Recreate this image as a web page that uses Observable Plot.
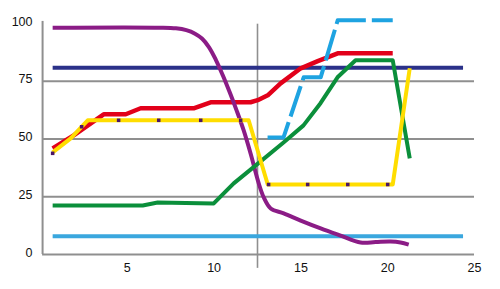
<!DOCTYPE html>
<html><head><meta charset="utf-8">
<script src="https://cdn.jsdelivr.net/npm/d3@7"></script>
<script src="https://cdn.jsdelivr.net/npm/@observablehq/plot@0.6"></script>
<style>body{margin:0;background:#fff;}#chart svg{display:block;}</style>
</head><body><div id="chart"></div>
<script>
// Tick labels
const xTicks = [5, 10, 15, 20, 25];
const yTicks = [0, 25, 50, 75, 100];

// Series values
const purpleX = [0.70, 6.92, 7.80, 8.40, 8.90, 9.30, 9.70, 10.10, 10.50, 10.90, 11.30, 11.70, 12.11, 12.57, 12.86, 13.26, 14.01, 14.99, 16.14, 17.29, 18.44, 19.31, 20.17, 20.74, 21.21];
const purpleY = [98.2, 98.2, 97.9, 97.1, 95.6, 93.5, 89.8, 84.3, 77.6, 70.2, 62.3, 53.8, 43.5, 30.8, 24.7, 19.9, 17.8, 14.7, 11.3, 8.2, 5.2, 5.4, 5.6, 5.2, 4.3];

const navyX = [0.70, 24.34];
const navyY = [80.8, 80.8];

const lightBlueX = [0.70, 24.34];
const lightBlueY = [7.9, 7.9];

const redX = [0.70, 1.91, 3.64, 4.91, 5.77, 8.82, 9.80, 12.10, 12.51, 13.09, 13.83, 14.99, 15.97, 17.12, 20.29];
const redY = [45.9, 51.6, 60.7, 60.7, 63.3, 63.3, 65.9, 65.9, 66.8, 68.9, 74.1, 80.6, 83.7, 87.1, 87.1];

const greenX = [0.70, 5.89, 6.75, 9.98, 11.13, 12.40, 14.00, 15.15, 16.13, 17.11, 18.15, 20.29, 21.27];
const greenY = [21.2, 21.2, 22.5, 22.1, 30.8, 38.6, 48.5, 55.9, 65.5, 76.7, 84.1, 84.1, 41.6];

const yellowX = [0.70, 1.74, 2.72, 11.99, 13.09, 20.29, 21.27];
const yellowY = [44.2, 50.3, 58.1, 58.1, 30.3, 30.3, 80.6];

const markerX = [0.70, 2.37, 4.50, 6.81, 9.23, 11.53, 13.14, 15.39, 17.70, 20.00];
const markerY = [43.8, 55.3, 58.1, 58.1, 58.1, 58.1, 30.3, 30.3, 30.3, 30.3];

const dashedX = [13.08, 14.00, 15.16, 16.14, 17.12, 20.29];
const dashedY = [50.7, 50.7, 76.7, 76.7, 101.4, 101.4];

const zip = (xs, ys) => xs.map((x, i) => ({x, y: ys[i]}));

const grid = "#8f8f8f";
const lw = 4;

const chart = Plot.plot({
  width: 500,
  height: 289,
  marginLeft: 40,
  marginRight: 26,
  marginTop: 23,
  marginBottom: 35,
  style: {fontFamily: "'Liberation Sans', Arial, sans-serif", fontSize: "12.5px", color: "#111", background: "#fff"},
  x: {domain: [0, 25]},
  y: {domain: [0, 100]},
  marks: [
    Plot.ruleY([25, 50, 75], {x1: 0.12, x2: 25, stroke: grid, strokeWidth: 2}),
    Plot.ruleY([0], {x1: 0.12, x2: 25, stroke: grid, strokeWidth: 2}),
    Plot.ruleX([0.12], {y1: 0, y2: 100.9, stroke: grid, strokeWidth: 2}),
    Plot.ruleX([12.5], {y1: -6, y2: 99.7, stroke: grid, strokeWidth: 1.6}),
    Plot.axisX({ticks: xTicks, tickSize: 0, tickPadding: 9, label: null}),
    Plot.axisY({ticks: yTicks, tickSize: 0, tickPadding: 8, dy: -2, label: null}),
    Plot.line(zip(navyX, navyY), {x: "x", y: "y", stroke: "#2b3189", strokeWidth: lw, strokeLinecap: "butt"}),
    Plot.line(zip(lightBlueX, lightBlueY), {x: "x", y: "y", stroke: "#3aa7de", strokeWidth: lw, strokeLinecap: "butt"}),
    Plot.line(zip(redX, redY), {x: "x", y: "y", stroke: "#e2001a", strokeWidth: 4.5, strokeLinecap: "butt"}),
    Plot.line(zip(purpleX, purpleY), {x: "x", y: "y", stroke: "#8b1c86", strokeWidth: lw, strokeLinecap: "butt", curve: "catmull-rom"}),
    Plot.line(zip(greenX, greenY), {x: "x", y: "y", stroke: "#0b8f3b", strokeWidth: lw, strokeLinecap: "butt"}),
    Plot.line(zip(yellowX, yellowY), {x: "x", y: "y", stroke: "#ffdd00", strokeWidth: lw, strokeLinecap: "butt"}),
    Plot.dot(zip(markerX, markerY), {x: "x", y: "y", symbol: "square", r: 2, fill: "#4b1666", stroke: "none"}),
    Plot.line(zip(dashedX, dashedY), {x: "x", y: "y", stroke: "#1ea3e1", strokeWidth: lw, strokeLinecap: "butt", strokeDasharray: "32,6"})
  ]
});
document.getElementById("chart").appendChild(chart);
</script>
</body></html>
